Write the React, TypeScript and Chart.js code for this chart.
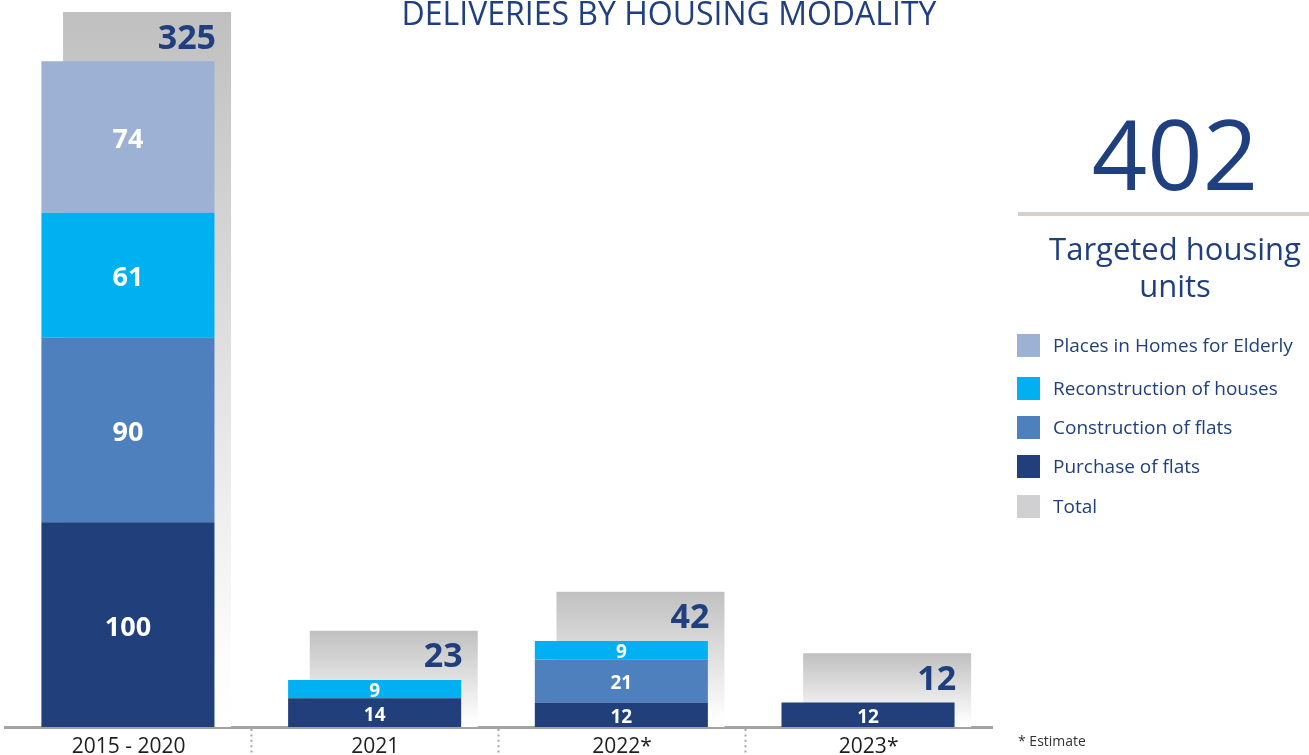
import React, { useEffect, useRef } from "react";
import { Chart, registerables } from "chart.js";

Chart.register(...registerables);

// ---------- data ----------
const categories = ["2015 - 2020", "2021", "2022*", "2023*"];
const purchaseOfFlats = [100, 14, 12, 12];
const constructionOfFlats = [90, null, 21, null];
const reconstructionOfHouses = [61, 9, 9, null];
const placesInHomesForElderly = [74, null, null, null];
const totals = [325, 23, 42, 12];
const targetedHousingUnits = 402;

const seriesNames = [
  "Places in Homes for Elderly",
  "Reconstruction of houses",
  "Construction of flats",
  "Purchase of flats",
  "Total",
];

// ---------- styles ----------
const NAVY = "#1f3f7e";
const COLORS: Record<string, string> = {
  "Places in Homes for Elderly": "#9db1d4",
  "Reconstruction of houses": "#00b0f0",
  "Construction of flats": "#4e80bd",
  "Purchase of flats": "#203f7b",
  Total: "#d0d0d2",
};
const LEGEND_TOPS = [334, 377, 416, 455, 495];
const FONT = '"Open Sans", "Noto Sans", sans-serif';
const Y_MAX = 350;
const TOTAL_LIFT = 24; // the reference draws the total bars raised above the stacks
// stacked bars centred on the category, total bars offset to the right
const STACK_CAT_PCT = 0.01;
const STACK_BAR_PCT = 140.3;
const TOTAL_CAT_PCT = 0.3;
const TOTAL_BAR_PCT = 4.54;

const totalGradient = (ctx: any) => {
  const chart = ctx.chart;
  if (ctx.type !== "data") return "#c6c7c6";
  const ys = chart.scales && chart.scales.y2;
  if (!ys || !chart.chartArea) return "#c6c7c6";
  const top = ys.getPixelForValue(totals[ctx.dataIndex]);
  const bottom = ys.getPixelForValue(-TOTAL_LIFT);
  if (!isFinite(top) || !isFinite(bottom) || bottom - top < 1) return "#c6c7c6";
  const g = chart.ctx.createLinearGradient(0, top, 0, bottom);
  g.addColorStop(0, "#bfc0bf");
  g.addColorStop(0.9, "#fcfcfc");
  g.addColorStop(1, "#ffffff");
  return g;
};

const valueLabels = {
  id: "valueLabels",
  afterDatasetsDraw(chart: any) {
    const c = chart.ctx;
    chart.data.datasets.forEach((ds: any, di: number) => {
      const meta = chart.getDatasetMeta(di);
      meta.data.forEach((bar: any, i: number) => {
        const v = ds.data[i];
        if (v === null || v === undefined) return;
        const { x, y, base, width } = bar.getProps(["x", "y", "base", "width"], true);
        c.save();
        if (ds.stack === "total") {
          c.font = `bold 34px ${FONT}`;
          c.fillStyle = NAVY;
          c.textAlign = "right";
          c.textBaseline = "middle";
          c.fillText(String(v), x + width / 2 - 15, y + 27);
        } else {
          const h = Math.abs(base - y);
          const size = h > 60 ? 27 : 19;
          c.font = `bold ${size}px ${FONT}`;
          c.fillStyle = "#ffffff";
          c.textAlign = "center";
          c.textBaseline = "middle";
          c.fillText(String(v), x, (y + base) / 2 + size * 0.13);
        }
        c.restore();
      });
    });
  },
};

export default function App() {
  const canvasRef = useRef<HTMLCanvasElement | null>(null);

  useEffect(() => {
    if (!canvasRef.current) return;
    const stackedCommon = {
      stack: "modality",
      yAxisID: "y",
      categoryPercentage: STACK_CAT_PCT,
      barPercentage: STACK_BAR_PCT,
      borderWidth: 0,
      order: 0,
    };
    const chart = new Chart(canvasRef.current, {
      type: "bar",
      data: {
        labels: categories,
        datasets: [
          { label: "Purchase of flats", data: purchaseOfFlats, backgroundColor: COLORS["Purchase of flats"], ...stackedCommon },
          { label: "Construction of flats", data: constructionOfFlats, backgroundColor: COLORS["Construction of flats"], ...stackedCommon },
          { label: "Reconstruction of houses", data: reconstructionOfHouses, backgroundColor: COLORS["Reconstruction of houses"], ...stackedCommon },
          { label: "Places in Homes for Elderly", data: placesInHomesForElderly, backgroundColor: COLORS["Places in Homes for Elderly"], ...stackedCommon },
          {
            label: "Total",
            data: totals,
            backgroundColor: totalGradient,
            stack: "total",
            yAxisID: "y2",
            base: -TOTAL_LIFT,
            categoryPercentage: TOTAL_CAT_PCT,
            barPercentage: TOTAL_BAR_PCT,
            borderWidth: 0,
            order: 1,
          } as any,
        ],
      },
      options: {
        animation: false,
        responsive: false,
        maintainAspectRatio: false,
        layout: { padding: { left: 5.2, right: 317, top: 10, bottom: 0 } },
        plugins: {
          legend: { display: false },
          tooltip: { enabled: false },
          title: { display: false },
        },
        scales: {
          x: {
            position: "bottom",
            grid: {
              offset: true,
              drawOnChartArea: false,
              drawTicks: true,
              tickLength: 30,
              tickWidth: 2,
              tickBorderDash: [2, 3.4],
              tickColor: (ctx: any) => (ctx.index > 0 ? "#a6a6a6" : "rgba(0,0,0,0)"),
            },
            border: { display: true, color: "#a3a3a3", width: 3 },
            ticks: {
              color: "#1e1e1e",
              font: { family: FONT, size: 21 },
              padding: -23,
              autoSkip: false,
              maxRotation: 0,
            },
            afterFit: (scale: any) => {
              scale.height = 43;
            },
          },
          y: { display: false, stacked: true, min: 0, max: Y_MAX },
          y2: { display: false, min: -TOTAL_LIFT, max: Y_MAX - TOTAL_LIFT },
        },
      } as any,
      plugins: [valueLabels],
    });
    return () => chart.destroy();
  }, []);

  return (
    <div
      style={{
        position: "fixed",
        left: 0,
        top: 0,
        width: 1309,
        height: 755,
        overflow: "hidden",
        background: "#ffffff",
        fontFamily: FONT,
      }}
    >
      <canvas
        ref={canvasRef}
        width={1309}
        height={770}
        style={{ position: "absolute", left: 0, top: 0, width: 1309, height: 770 }}
      />
      <div
        style={{
          position: "absolute",
          left: 669,
          top: -3.5,
          transform: "translateX(-50%)",
          whiteSpace: "nowrap",
          fontSize: 32,
          lineHeight: "32px",
          color: NAVY,
        }}
      >
        DELIVERIES BY HOUSING MODALITY
      </div>
      <div
        style={{
          position: "absolute",
          left: 1175,
          top: 104,
          transform: "translateX(-50%)",
          fontSize: 97,
          lineHeight: "97px",
          color: NAVY,
          whiteSpace: "nowrap",
        }}
      >
        {targetedHousingUnits}
      </div>
      <div
        style={{
          position: "absolute",
          left: 1018,
          top: 212,
          width: 291,
          height: 4,
          background: "#d8cfcc",
        }}
      />
      <div
        style={{
          position: "absolute",
          left: 1175,
          top: 230,
          transform: "translateX(-50%)",
          width: 320,
          textAlign: "center",
          fontSize: 31,
          lineHeight: "37px",
          color: NAVY,
        }}
      >
        Targeted housing
        <br />
        units
      </div>
      {seriesNames.map((name, i) => (
        <div
          key={name}
          style={{
            position: "absolute",
            left: 1017,
            top: LEGEND_TOPS[i],
            height: 23,
            display: "flex",
            alignItems: "center",
            whiteSpace: "nowrap",
          }}
        >
          <div style={{ width: 23, height: 23, background: COLORS[name] }} />
          <div style={{ marginLeft: 13, fontSize: 19, color: NAVY, lineHeight: "23px" }}>{name}</div>
        </div>
      ))}
      <div
        style={{
          position: "absolute",
          left: 1018,
          top: 731,
          fontSize: 14,
          lineHeight: "20px",
          color: "#333333",
          whiteSpace: "nowrap",
        }}
      >
        * Estimate
      </div>
    </div>
  );
}
